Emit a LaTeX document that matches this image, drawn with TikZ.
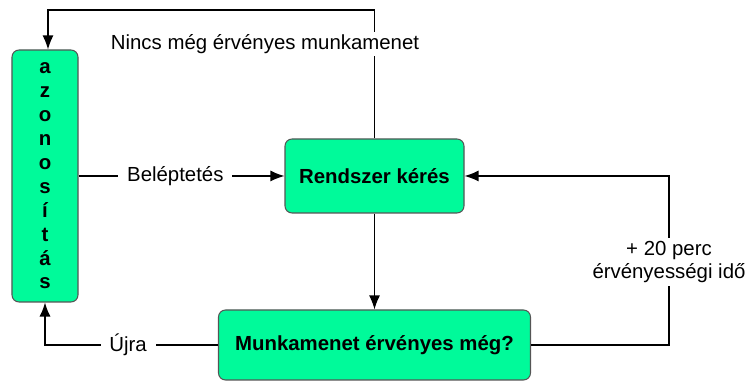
\documentclass[tikz,border=0pt]{standalone}
\usepackage{fontspec}
\setmainfont{Liberation Sans}
\usetikzlibrary{arrows.meta}

\definecolor{boxgreen}{RGB}{0,250,154}
\definecolor{boxline}{RGB}{85,85,85}

\begin{document}
\begin{tikzpicture}[every node/.style={font=\fontsize{11.6}{13.6}\selectfont}]

\def\lw{0.75pt}
\def\toprow{7.46}
\def\rightcol{13.38}

\tikzset{box/.style = {draw=boxline, fill=boxgreen, rounded corners=4pt, line width=0.6pt, align=center, inner sep=0pt, font=\fontsize{11.6}{13.6}\selectfont\bfseries}}
\tikzset{flow/.style = {draw, line width=\lw, -{Latex[length=2.8mm,width=2.2mm]}}}
\tikzset{lbl/.style = {fill=white, inner xsep=5pt, inner ysep=1.5pt, align=center}}

\useasboundingbox (0,0) rectangle (15,7.66);

% boxes
\node[box, minimum width=1.32cm, minimum height=5.04cm] (azon) at (0.9,4.14) {a\\z\\o\\n\\o\\s\\í\\t\\á\\s};
\node[box, minimum width=3.58cm, minimum height=1.48cm] (keres) at (7.49,4.14) {Rendszer kérés};
\node[box, minimum width=6.24cm, minimum height=1.4cm] (ervenyes) at (7.49,0.76) {Munkamenet érvényes még?};

\coordinate (top) at (0,\toprow);
\coordinate (right) at (\rightcol,0);

% back to login while no session
\draw[flow] (keres.north) -- (keres.north |- top) -| ([xshift=0.06cm]azon.north);
\node[lbl] (nincs) at (5.3,6.78) {Nincs még érvényes munkamenet};

% login
\draw[flow] (azon.east) -- (keres.west) node[lbl, pos=0.47] (belep) {Beléptetés};

% request -> check
\draw[flow] (keres.south) -- (keres.south |- ervenyes.north);

% valid: extend by 20 minutes
\draw[flow] (ervenyes.east) -- (ervenyes.east -| right) |- (keres.east);
\node[lbl] (perc) at (\rightcol,2.42) {+ 20 perc\\érvényességi idő};

% expired
\draw[flow] (ervenyes.west) -- (ervenyes.west -| azon.south) node[lbl, pos=0.52] (ujra) {Újra} -- (azon.south);

\end{tikzpicture}
\end{document}
